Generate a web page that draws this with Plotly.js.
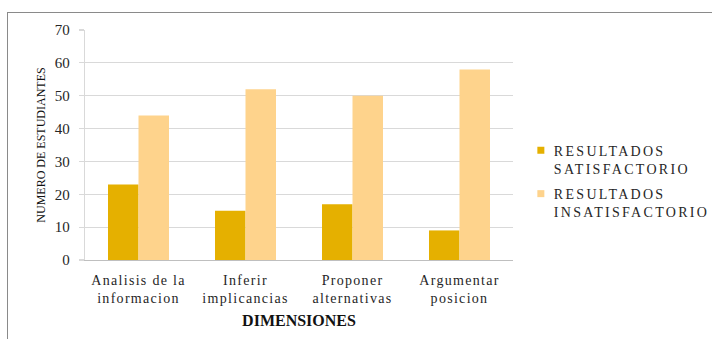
<!DOCTYPE html>
<html>
<head>
<meta charset="utf-8">
<script src="https://cdn.plot.ly/plotly-3.0.1.min.js"></script>
<style>
  html, body { margin: 0; padding: 0; width: 712px; height: 339px; overflow: hidden; background: #fff; }
  #chart { position: absolute; left: 0; top: 0; width: 712px; height: 339px; }
  #frame { position: absolute; left: 7px; top: 12px; width: 800px; height: 400px;
           border: 1.5px solid #8a8a8a; pointer-events: none; }
  .legend text.legendtext { letter-spacing: 2.3px; }
  .xtick text { letter-spacing: 1.3px; }
</style>
</head>
<body>
<div id="chart"></div>
<div id="frame"></div>
<script>
const categories = [
  "Analisis de la<br>informacion",
  "Inferir<br>implicancias",
  "Proponer<br>alternativas",
  "Argumentar<br>posicion"
];
const satisfactorio = [23, 15, 17, 9];
const insatisfactorio = [44, 52, 50, 58];
const seriesNames = ["RESULTADOS<br>SATISFACTORIO", "RESULTADOS<br>INSATISFACTORIO"];
const yTicks = [0, 10, 20, 30, 40, 50, 60, 70];

const serif = "Liberation Serif, Times New Roman, serif";

const data = [
  { type: "bar", x: categories, y: satisfactorio, name: seriesNames[0], legendgroup: "s",
    marker: { color: "#E5B000" }, hoverinfo: "none" },
  { type: "bar", x: categories, y: insatisfactorio, name: seriesNames[1], legendgroup: "i",
    marker: { color: "#FED38C" }, hoverinfo: "none" }
];

const layout = {
  width: 712, height: 339,
  margin: { l: 85, r: 199, t: 30, b: 78.5 },
  paper_bgcolor: "rgba(0,0,0,0)",
  plot_bgcolor: "rgba(0,0,0,0)",
  font: { family: serif, color: "#262626" },
  barmode: "group",
  bargap: 0.43,
  bargroupgap: 0,
  showlegend: true,
  legend: {
    x: 1.002, xanchor: "left", y: 0.545, yanchor: "top",
    valign: "top",
    traceorder: "grouped",
    tracegroupgap: 4,
    font: { family: serif, size: 14, color: "#262626" },
    bgcolor: "rgba(0,0,0,0)"
  },
  xaxis: {
    type: "category",
    showline: true, linecolor: "#bfbfbf", linewidth: 1.2,
    ticks: "", showgrid: false,
    tickfont: { family: serif, size: 14, color: "#262626" },
    ticklabelstandoff: 7,
    title: { text: "<b>DIMENSIONES</b>", font: { family: serif, size: 16, color: "#111" }, standoff: 9 }
  },
  yaxis: {
    range: [0, 70],
    tickvals: yTicks,
    ticktext: yTicks.map(String),
    showline: true, linecolor: "#d9d9d9", linewidth: 1.2,
    ticks: "outside", ticklen: 5, tickcolor: "#d9d9d9", tickwidth: 1.2,
    showgrid: true, gridcolor: "#d9d9d9", gridwidth: 1.2,
    zeroline: false,
    tickfont: { family: serif, size: 15, color: "#262626" },
    ticklabelstandoff: 6,
    title: { text: "NUMERO DE ESTUDIANTES", font: { family: serif, size: 12, color: "#111" }, standoff: 6 }
  }
};

Plotly.newPlot("chart", data, layout, { staticPlot: true }).then(function () {
  document.querySelectorAll(".legend .legendpoints path").forEach(function (p) {
    p.setAttribute("d", "M10.5,3.5H3.5V-3.5H10.5Z");
  });
  document.querySelectorAll(".legend .scrollbox, .legend [clip-path]").forEach(function (g) {
    g.removeAttribute("clip-path");
  });
});
</script>
</body>
</html>
